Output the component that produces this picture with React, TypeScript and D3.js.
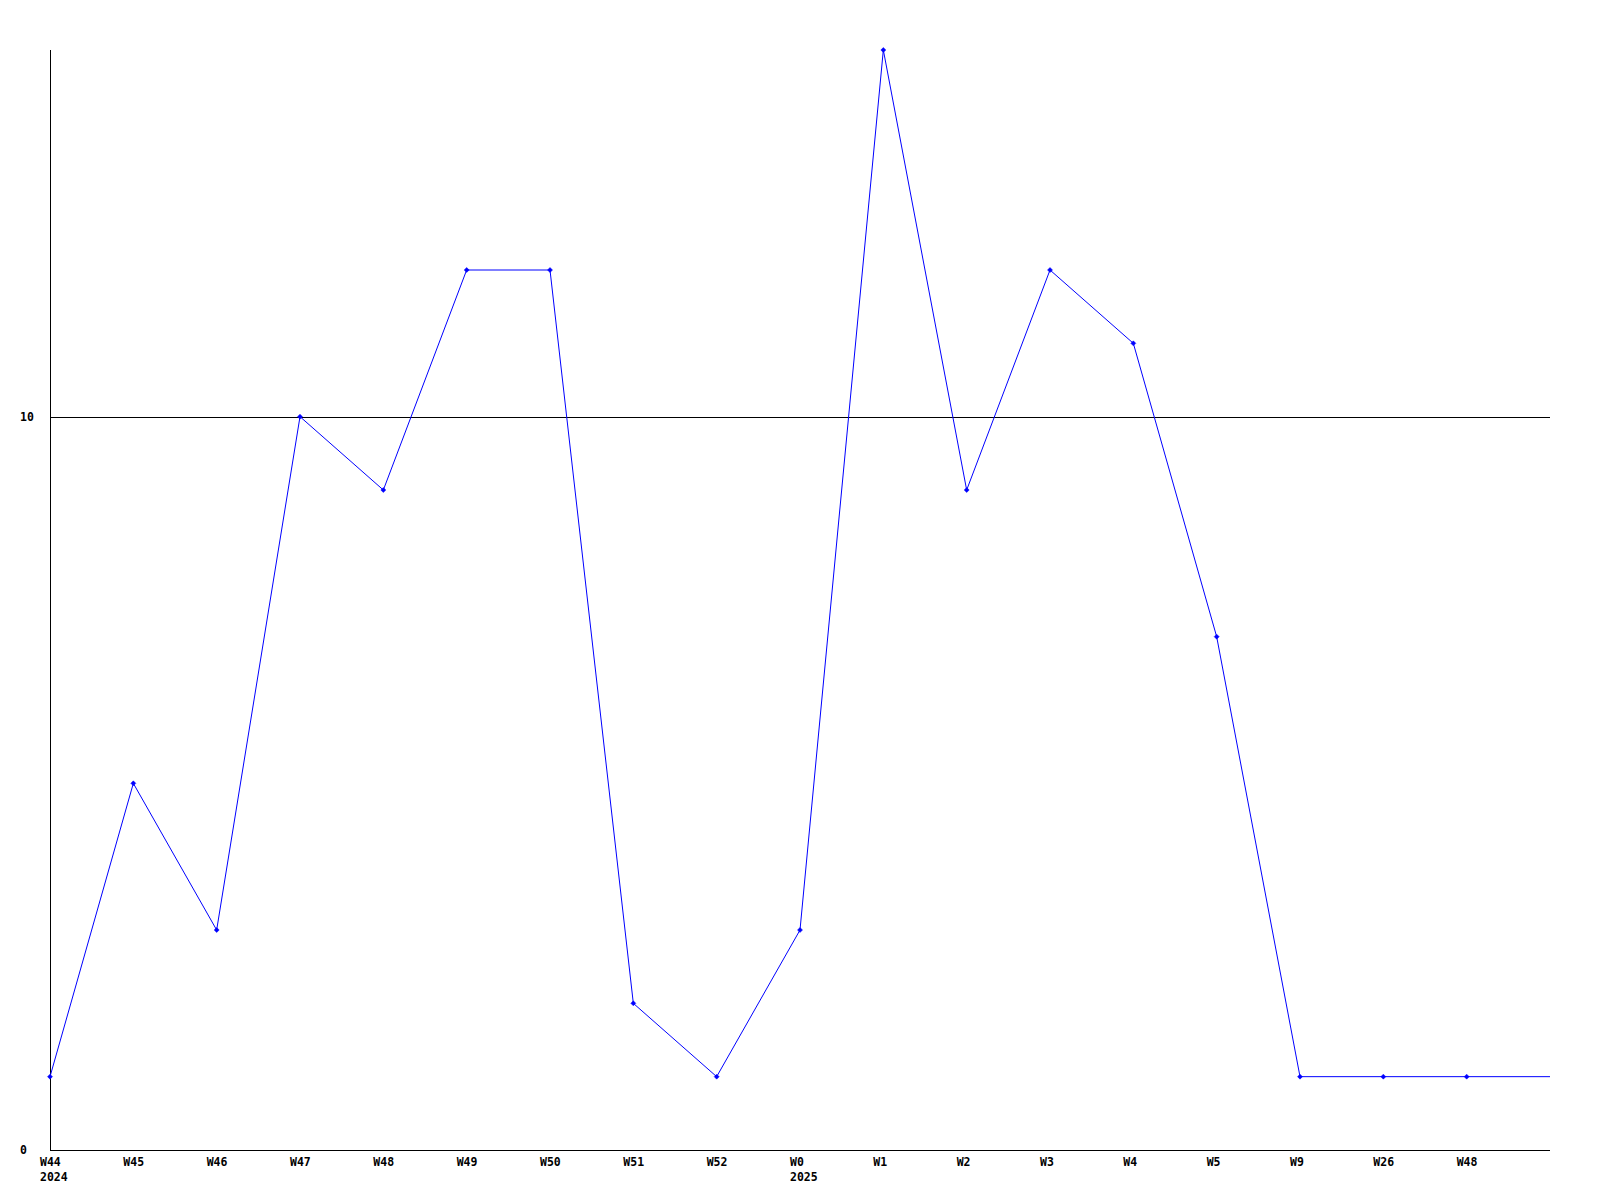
import React from "react";
import * as d3 from "d3";

const weeks = ["W44", "W45", "W46", "W47", "W48", "W49", "W50", "W51", "W52", "W0", "W1", "W2", "W3", "W4", "W5", "W9", "W26", "W48"];
const years = ["2024", "", "", "", "", "", "", "", "", "2025", "", "", "", "", "", "", "", ""];
const values = [1, 5, 3, 10, 9, 12, 12, 2, 1, 3, 15, 9, 12, 11, 7, 1, 1, 1];
const yTicks = [0, 10];

export default function App() {
  const W = 1600, H = 1200;
  const left = 50, right = 1550, top = 50, bottom = 1150;
  const idx = weeks.map((_, i) => i);
  const x = d3.scaleLinear().domain([0, weeks.length]).range([left, right]);
  const y = d3.scaleLinear().domain([0, 15]).range([bottom, top]);
  const pts: [number, number][] = values.map((v, i) => [x(i), y(v)]);
  const ext: [number, number][] = [...pts, [x(weeks.length), y(values[values.length - 1])]];
  const line = d3.line<[number, number]>().x(d => d[0]).y(d => d[1]);
  const font = "'DejaVu Sans Mono', monospace";
  const fs = 11.5;
  return (
    <svg width={W} height={H} style={{ position: "absolute", left: 0, top: 0, background: "#fff" }}>
      <rect x={0} y={0} width={W} height={H} fill="#fff" />
      {yTicks.filter(t => t > 0).map(t => (
        <line key={t} x1={left} x2={right} y1={Math.round(y(t)) + 0.5} y2={Math.round(y(t)) + 0.5} stroke="#000" strokeWidth={1} shapeRendering="crispEdges" />
      ))}
      <line x1={left + 0.5} x2={left + 0.5} y1={top} y2={bottom} stroke="#000" strokeWidth={1} shapeRendering="crispEdges" />
      <line x1={left} x2={right} y1={bottom + 0.5} y2={bottom + 0.5} stroke="#000" strokeWidth={1} shapeRendering="crispEdges" />
      {yTicks.map(t => (
        <text key={t} x={20} y={y(t)} dy="0.35em" fontFamily={font} fontWeight="bold" fontSize={fs} fill="#000">{t}</text>
      ))}
      {idx.map(i => (
        <g key={i}>
          <text x={x(i) - 10} y={1166} textAnchor="start" fontFamily={font} fontWeight="bold" fontSize={fs} fill="#000">{weeks[i]}</text>
          {years[i] && (
            <text x={x(i) - 10} y={1181} textAnchor="start" fontFamily={font} fontWeight="bold" fontSize={fs} fill="#000">{years[i]}</text>
          )}
        </g>
      ))}
      <path d={line(ext) || ""} fill="none" stroke="#0000ff" strokeWidth={1} />
      {pts.map((p, i) => (
        <path key={i} d={`M${p[0]},${p[1] - 2.5}L${p[0] + 2.5},${p[1]}L${p[0]},${p[1] + 2.5}L${p[0] - 2.5},${p[1]}Z`} fill="#0000ff" stroke="#0000ff" strokeWidth={0.5} />
      ))}
    </svg>
  );
}
